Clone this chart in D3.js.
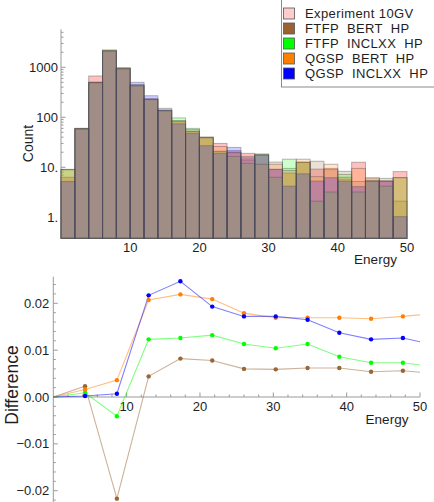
<!DOCTYPE html>
<html>
<head>
<meta charset="utf-8">
<script src="https://cdn.jsdelivr.net/npm/d3@7"></script>
<style>
  body { margin: 0; background: #fff; }
  svg { display: block; font-family: "Liberation Sans", Arial, sans-serif; }
</style>
</head>
<body>
<svg id="chart" width="434" height="502"></svg>
<script>
  // histogram bins (left edge, width 2)
  var binStarts = [0, 2, 4, 6, 8, 10, 12, 14, 16, 18, 20, 22, 24, 26, 28, 30, 32, 34, 36, 38, 40, 42, 44, 46, 48];
  var binWidth = 2;

  // counts per bin
  var experiment = [6.3, 58, 670, 2100, 920, 420, 225, 134, 82, 53, 39, 30, 21.5, 19, 17.5, 9.1, 7.7, 12.6, 9.2, 9.5, 5.8, 12.6, 5.4, 5.3, 8.2];
  var ftfpBert   = [8.9, 60, 505, 2150, 960, 440, 230, 151, 86, 57, 40, 21, 19.5, 14, 18.5, 12.7, 9.5, 12.7, 13.2, 9.0, 8.3, 5.2, 5.9, 6.0, 2.1];
  var ftfpInclxx = [9.1, 59, 495, 2200, 950, 430, 228, 136, 97, 60, 40, 20.5, 16.5, 12, 18, 6.3, 14.5, 12.5, 2.1, 3.2, 7.2, 3.2, 5.3, 4.2, 6.2];
  var qgspBert   = [9.0, 60, 500, 2200, 980, 450, 235, 138, 84, 52, 39, 26, 20, 16.5, 11.5, 11.5, 8.6, 14.5, 6.5, 11.5, 6.3, 9.5, 6.2, 5.3, 6.2];
  var qgspInclxx = [5.2, 59, 490, 2100, 940, 500, 270, 140, 74, 48, 27, 19, 25, 15.5, 17.5, 9.1, 4.2, 7.4, 5.3, 6.2, 5.3, 4.1, 5.3, 5.3, 1.03];

  // difference plot
  var diffEnergy     = [0, 4.33, 8.67, 13, 17.33, 21.67, 26, 30.33, 34.67, 39, 43.33, 47.67, 52];
  var diffFtfpBert   = [0, 0.0023, -0.0217, 0.0044, 0.0082, 0.0078, 0.0060, 0.0059, 0.0062, 0.0062, 0.0054, 0.0056, 0.0050];
  var diffFtfpInclxx = [0, 0.0009, -0.0041, 0.0123, 0.0126, 0.0132, 0.0113, 0.0104, 0.0113, 0.0086, 0.0073, 0.0073, 0.0064];
  var diffQgspBert   = [0, 0.0016, 0.0036, 0.0207, 0.0219, 0.0209, 0.0179, 0.0169, 0.0169, 0.0169, 0.0167, 0.0172, 0.0178];
  var diffQgspInclxx = [0, 0.0002, 0.0007, 0.0217, 0.0247, 0.0193, 0.0172, 0.0172, 0.0165, 0.0137, 0.0123, 0.0126, 0.0111];

  var legendNames = ["Experiment 10GV", "FTFP  BERT  HP", "FTFP  INCLXX  HP", "QGSP  BERT  HP", "QGSP  INCLXX  HP"];
  var legendColors = ["#ffcccc", "#9a6233", "#00ff00", "#ff8000", "#0000ff"];

  var xTickValues = [10, 20, 30, 40, 50];
  var logTickValues = [1, 10, 100, 1000];
  var logTickLabels = ["1.", "10.", "100", "1000"];
  var diffTickValues = [-0.02, -0.01, 0, 0.01, 0.02];
  var diffTickLabels = ["\u22120.02", "\u22120.01", "0.00", "0.01", "0.02"];

  (function () {
    var axisColor = "#9a9a9a";
    var textColor = "#1e1e1e";

    var svg = d3.select("#chart");

    // ---------- upper plot: histogram ----------
    var xTop = d3.scaleLinear().domain([0, 50]).range([61, 407]);
    var yTop = d3.scaleLog().domain([0.38, 5750]).range([238.3, 29.3]);

    var hist = svg.append("g");

    // axes drawn first so the bars sit over them
    hist.append("line")
      .attr("x1", xTop(0)).attr("x2", xTop(50))
      .attr("y1", yTop.range()[0]).attr("y2", yTop.range()[0])
      .attr("stroke", axisColor);
    hist.append("line")
      .attr("x1", xTop(0)).attr("x2", xTop(0))
      .attr("y1", yTop.range()[0]).attr("y2", yTop.range()[1])
      .attr("stroke", axisColor);

    var minorLog = [];
    [0.1, 1, 10, 100, 1000].forEach(function (d) {
      [2, 3, 4, 5, 6, 7, 8, 9].forEach(function (m) {
        var v = d * m;
        if (v > yTop.domain()[0] && v < yTop.domain()[1]) minorLog.push(v);
      });
    });

    hist.selectAll(".ymin").data(minorLog).enter().append("line")
      .attr("x1", xTop(0)).attr("x2", xTop(0) + 2.5)
      .attr("y1", function (d) { return yTop(d); })
      .attr("y2", function (d) { return yTop(d); })
      .attr("stroke", axisColor);
    hist.selectAll(".ymaj").data(logTickValues).enter().append("line")
      .attr("x1", xTop(0)).attr("x2", xTop(0) + 4.5)
      .attr("y1", function (d) { return yTop(d); })
      .attr("y2", function (d) { return yTop(d); })
      .attr("stroke", axisColor);
    hist.selectAll(".ylab").data(logTickValues).enter().append("text")
      .attr("x", xTop(0) - 3)
      .attr("y", function (d) { return yTop(d) + 4.7; })
      .attr("text-anchor", "end")
      .attr("font-size", 13)
      .attr("fill", textColor)
      .text(function (d, i) { return logTickLabels[i]; });

    hist.selectAll(".xlab").data(xTickValues).enter().append("text")
      .attr("x", function (d) { return xTop(d); })
      .attr("y", 251.8)
      .attr("text-anchor", "middle")
      .attr("font-size", 13)
      .attr("fill", textColor)
      .text(function (d) { return d; });

    hist.append("text")
      .attr("x", 375.5).attr("y", 264)
      .attr("text-anchor", "middle")
      .attr("font-size", 13.5)
      .attr("fill", textColor)
      .text("Energy");
    hist.append("text")
      .attr("transform", "translate(33,143.5) rotate(-90)")
      .attr("text-anchor", "middle")
      .attr("font-size", 14)
      .attr("fill", textColor)
      .text("Count");

    // bars: each series over the others, semi transparent
    var series = [
      { values: experiment, color: "#ffc0c0", opacity: 1 },
      { values: ftfpBert, color: "#9a6633", opacity: 0.2 },
      { values: ftfpInclxx, color: "#00ff00", opacity: 0.2 },
      { values: qgspBert, color: "#ff8000", opacity: 0.2 },
      { values: qgspInclxx, color: "#0000ff", opacity: 0.2 }
    ];

    series.forEach(function (s) {
      hist.append("g").selectAll("rect").data(s.values).enter().append("rect")
        .attr("x", function (d, i) { return xTop(binStarts[i]); })
        .attr("width", function (d, i) { return xTop(binStarts[i] + binWidth) - xTop(binStarts[i]); })
        .attr("y", function (d) { return yTop(d); })
        .attr("height", function (d) { return yTop.range()[0] - yTop(d); })
        .attr("fill", s.color)
        .attr("fill-opacity", s.opacity)
        .attr("stroke", "#505050")
        .attr("stroke-opacity", 0.4)
        .attr("stroke-width", 1);
    });

    // legend
    var legend = svg.append("g");
    legend.append("rect")
      .attr("x", 281.5).attr("y", -0.5)
      .attr("width", 160).attr("height", 87.5)
      .attr("fill", "#fff")
      .attr("stroke", "#8a8a8a");
    legendNames.forEach(function (name, i) {
      var cy = 13.5 + i * 15;
      legend.append("rect")
        .attr("x", 283.5).attr("y", cy - 5.5)
        .attr("width", 11).attr("height", 11)
        .attr("fill", legendColors[i])
        .attr("stroke", "#555")
        .attr("stroke-width", 0.8);
      legend.append("text")
        .attr("x", 305).attr("y", cy + 4.7)
        .attr("font-size", 13)
        .attr("letter-spacing", 0.4)
        .attr("fill", textColor)
        .style("white-space", "pre")
        .text(name);
    });

    // ---------- lower plot: difference ----------
    var xBot = d3.scaleLinear().domain([0, 50]).range([53.3, 420]);
    var yBot = d3.scaleLinear().domain([-0.02, 0.02]).range([490.7, 303.3]);

    var diff = svg.append("g");

    diff.append("line")
      .attr("x1", xBot(0)).attr("x2", xBot(0))
      .attr("y1", 276.7).attr("y2", 502)
      .attr("stroke", axisColor);
    diff.append("line")
      .attr("x1", xBot(0)).attr("x2", xBot(50))
      .attr("y1", yBot(0)).attr("y2", yBot(0))
      .attr("stroke", axisColor);

    var xMinor = [2, 4, 6, 8, 12, 14, 16, 18, 22, 24, 26, 28, 32, 34, 36, 38, 42, 44, 46, 48];
    diff.selectAll(".xmin").data(xMinor).enter().append("line")
      .attr("x1", function (d) { return xBot(d); })
      .attr("x2", function (d) { return xBot(d); })
      .attr("y1", yBot(0)).attr("y2", yBot(0) - 2.5)
      .attr("stroke", axisColor);
    diff.selectAll(".xmaj").data(xTickValues).enter().append("line")
      .attr("x1", function (d) { return xBot(d); })
      .attr("x2", function (d) { return xBot(d); })
      .attr("y1", yBot(0)).attr("y2", yBot(0) - 4.5)
      .attr("stroke", axisColor);
    diff.selectAll(".xlab").data(xTickValues).enter().append("text")
      .attr("x", function (d) { return xBot(d); })
      .attr("y", 411.3)
      .attr("text-anchor", "middle")
      .attr("font-size", 13)
      .attr("fill", textColor)
      .text(function (d) { return d; });

    var yMinor = [-0.024, -0.022, -0.018, -0.016, -0.014, -0.012, -0.008, -0.006, -0.004, -0.002,
      0.002, 0.004, 0.006, 0.008, 0.012, 0.014, 0.016, 0.018, 0.022, 0.024];
    diff.selectAll(".ymin").data(yMinor).enter().append("line")
      .attr("x1", xBot(0)).attr("x2", xBot(0) + 2.5)
      .attr("y1", function (d) { return yBot(d); })
      .attr("y2", function (d) { return yBot(d); })
      .attr("stroke", axisColor);
    diff.selectAll(".ymaj").data(diffTickValues).enter().append("line")
      .attr("x1", xBot(0)).attr("x2", xBot(0) + 4.5)
      .attr("y1", function (d) { return yBot(d); })
      .attr("y2", function (d) { return yBot(d); })
      .attr("stroke", axisColor);
    diff.selectAll(".ylab").data(diffTickValues).enter().append("text")
      .attr("x", xBot(0) - 4)
      .attr("y", function (d) { return yBot(d) + 4.5; })
      .attr("text-anchor", "end")
      .attr("font-size", 13)
      .attr("fill", textColor)
      .text(function (d, i) { return diffTickLabels[i]; });

    diff.append("text")
      .attr("x", 387).attr("y", 424)
      .attr("text-anchor", "middle")
      .attr("font-size", 13.5)
      .attr("fill", textColor)
      .text("Energy");
    diff.append("text")
      .attr("transform", "translate(18,385) rotate(-90)")
      .attr("text-anchor", "middle")
      .attr("font-size", 17.5)
      .attr("fill", textColor)
      .text("Difference");

    // clip lines at energy 50
    svg.append("defs").append("clipPath").attr("id", "botClip")
      .append("rect")
      .attr("x", xBot(0) - 4).attr("y", 270)
      .attr("width", xBot(50) - xBot(0) + 4).attr("height", 232);

    var diffSeries = [
      { values: diffFtfpBert, color: "#9a6633" },
      { values: diffFtfpInclxx, color: "#00ff00" },
      { values: diffQgspBert, color: "#ff8000" },
      { values: diffQgspInclxx, color: "#0000ff" }
    ];

    var line = d3.line()
      .x(function (d) { return xBot(d[0]); })
      .y(function (d) { return yBot(d[1]); });

    var plotArea = diff.append("g").attr("clip-path", "url(#botClip)");
    diffSeries.forEach(function (s) {
      var pts = diffEnergy.map(function (e, i) { return [e, s.values[i]]; });
      plotArea.append("path")
        .attr("d", line(pts))
        .attr("fill", "none")
        .attr("stroke", s.color)
        .attr("stroke-opacity", 0.5)
        .attr("stroke-width", 1.1);
    });
    diffSeries.forEach(function (s) {
      var pts = diffEnergy.map(function (e, i) { return [e, s.values[i]]; })
        .filter(function (p) { return p[0] > 0 && p[0] < 50; });
      plotArea.selectAll(null).data(pts).enter().append("circle")
        .attr("cx", function (d) { return xBot(d[0]); })
        .attr("cy", function (d) { return yBot(d[1]); })
        .attr("r", 2.2)
        .attr("fill", s.color);
    });
  })();
</script>
</body>
</html>
